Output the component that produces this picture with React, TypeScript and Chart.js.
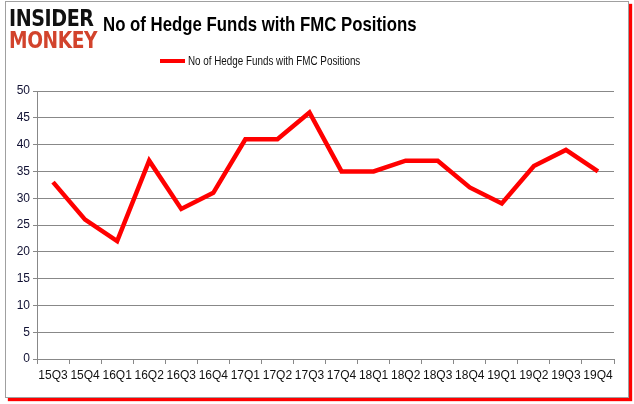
import React, { useEffect, useRef } from "react";
import { Chart, registerables } from "chart.js";

Chart.register(...registerables);

const categories = ["15Q3","15Q4","16Q1","16Q2","16Q3","16Q4","17Q1","17Q2","17Q3","17Q4","18Q1","18Q2","18Q3","18Q4","19Q1","19Q2","19Q3","19Q4"];
const hedgeFunds = [33, 26, 22, 37, 28, 31, 41, 41, 46, 35, 35, 37, 37, 32, 29, 36, 39, 35];
const seriesName = "No of Hedge Funds with FMC Positions";
const titleText = "No of Hedge Funds with FMC Positions";
const yMin = 0;
const yMax = 50;
const yStep = 5;

export default function App() {
  const ref = useRef<HTMLCanvasElement | null>(null);
  useEffect(() => {
    if (!ref.current) return;
    const chart = new Chart(ref.current, {
      type: "line",
      data: {
        labels: categories,
        datasets: [
          {
            label: seriesName,
            data: hedgeFunds,
            borderColor: "#ff0000",
            backgroundColor: "#ff0000",
            borderWidth: 4.5,
            pointRadius: 0,
            tension: 0,
            borderJoinStyle: "miter",
          },
        ],
      },
      options: {
        responsive: false,
        animation: false,
        layout: { padding: { left: 0, right: 20, top: 91, bottom: 0 } },
        plugins: { legend: { display: false }, title: { display: false }, tooltip: { enabled: false } },
        scales: {
          x: {
            offset: true,
            grid: { drawOnChartArea: false, drawTicks: true, tickLength: 5, offset: true, color: "#888888" },
            border: { color: "#888888", width: 1 },
            ticks: { color: "#111111", font: { family: "Liberation Sans", size: 12 }, padding: 4, maxRotation: 0, autoSkip: false },
            afterFit: (s: any) => { s.height = 45; },
          },
          y: {
            min: yMin,
            max: yMax,
            ticks: { stepSize: yStep, color: "#111133", font: { family: "Liberation Sans", size: 12 }, padding: 3 },
            grid: { color: "#888888", tickLength: 4, lineWidth: 1 },
            border: { color: "#888888", width: 1 },
            afterFit: (s: any) => { s.width = 37; },
          },
        },
      },
    });
    return () => chart.destroy();
  }, []);

  return (
    <div style={{ position: "absolute", left: 0, top: 0, width: 634, height: 404, background: "#fff", overflow: "hidden" }}>
      <div style={{ position: "absolute", left: 5, top: 1, width: 622, height: 395, border: "1px solid #a0a0a0", boxShadow: "3px 3px 1px #ff0000", background: "#fff" }} />
      <canvas ref={ref} width={634} height={404} style={{ position: "absolute", left: 0, top: 0, width: 634, height: 404 }} />
      <div style={{ position: "absolute", left: 9, top: 7, fontFamily: "DejaVu Sans", fontWeight: 900, lineHeight: "22px", fontSize: 23, letterSpacing: -0.5 }}>
        <div style={{ color: "#111", transform: "scaleX(0.83)", transformOrigin: "left" }}>INSIDER</div>
        <div style={{ color: "#d2432c", transform: "scaleX(0.81)", transformOrigin: "left" }}>MONKEY</div>
      </div>
      <div style={{ position: "absolute", left: 103, top: 12, fontFamily: "Liberation Sans", fontWeight: "bold", fontSize: 21, color: "#000", whiteSpace: "nowrap", transform: "scaleX(0.8)", transformOrigin: "left" }}>
        {titleText}
      </div>
      <div style={{ position: "absolute", left: 160, top: 54, display: "flex", alignItems: "center", fontFamily: "Liberation Sans", fontSize: 12, color: "#111", whiteSpace: "nowrap" }}>
        <span style={{ display: "inline-block", width: 25, height: 4, background: "#ff0000", marginRight: 3 }} />
        <span style={{ display: "inline-block", transform: "scaleX(0.82)", transformOrigin: "left" }}>{seriesName}</span>
      </div>
    </div>
  );
}
